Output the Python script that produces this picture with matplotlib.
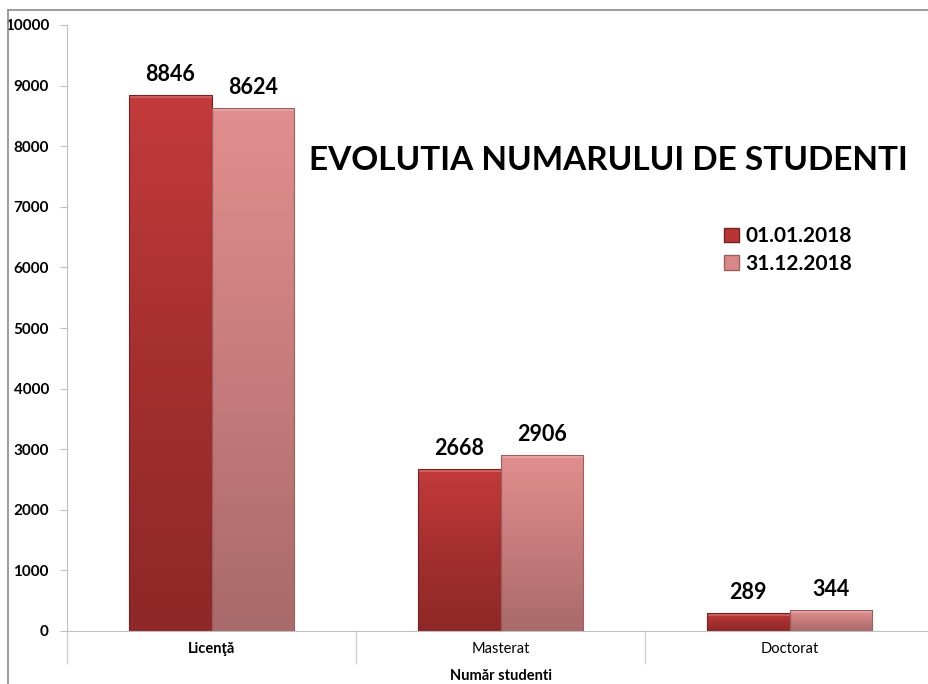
import numpy as np
from matplotlib import pyplot as plt
from matplotlib.patches import Rectangle
from matplotlib.lines import Line2D
from matplotlib.colors import LinearSegmentedColormap

categories = ['Licenţă', 'Masterat', 'Doctorat']
series_names = ['01.01.2018', '31.12.2018']
values_start = [8846, 2668, 289]
values_end = [8624, 2906, 344]
yticks = [0, 1000, 2000, 3000, 4000, 5000, 6000, 7000, 8000, 9000, 10000]

W, H = 929, 684
fig = plt.figure(figsize=(W / 100, H / 100), dpi=100)
plt.rcParams['font.family'] = ['Lato', 'DejaVu Sans']

# axes box in pixels: left 67, top 25, bottom 631
ax = fig.add_axes([67 / W, (H - 631) / H, (W - 67) / W, (631 - 25) / H])
right_lim = -0.5 + (W - 67) / 289.0

# outer border of the chart area (top and left only, the rest is cut off)
fig.add_artist(Line2D([8 / W, 1.0], [(H - 10) / H] * 2, transform=fig.transFigure,
                      color='#8c8c8c', linewidth=1.2))
fig.add_artist(Line2D([8 / W] * 2, [0, (H - 10) / H], transform=fig.transFigure,
                      color='#8c8c8c', linewidth=1.2))

grad1 = LinearSegmentedColormap.from_list('g1', ['#8e2828', '#a52f2f', '#c33b3b'])
grad2 = LinearSegmentedColormap.from_list('g2', ['#a86a6a', '#c77c7c', '#e28e8e'])
edges = ['#7a2020', '#9a6060']

width = 0.287
x = np.arange(len(categories))
for k, (vals, cmap) in enumerate([(values_start, grad1), (values_end, grad2)]):
    pos = x - width / 2 + k * width
    bars = ax.bar(pos, vals, width, color='none', edgecolor=edges[k], linewidth=0.8, zorder=3)
    for b, v in zip(bars, vals):
        x0, x1 = b.get_x(), b.get_x() + b.get_width()
        grad = np.linspace(0, 1, 256).reshape(-1, 1)
        im = ax.imshow(grad, extent=(x0, x1, 0, v), origin='lower', cmap=cmap,
                       aspect='auto', zorder=2, interpolation='bicubic')
        im.set_clip_path(b)
        # light bevel on top
        ax.add_patch(Rectangle((x0, v - 45), b.get_width(), 45, facecolor='white',
                               alpha=0.2, edgecolor='none', zorder=2.5))
        ax.text(b.get_x() + b.get_width() / 2, v + 170, str(v), ha='center', va='bottom',
                fontsize=15.5, fontweight='bold', color='black', zorder=4)
ax.set_xlim(-0.5, right_lim)
ax.set_ylim(0, 10000)

ax.set_yticks(yticks)
ax.set_yticklabels([str(t) for t in yticks], fontsize=11, fontweight='bold')
ax.tick_params(axis='y', length=5, color='#bfbfbf', pad=8)
ax.set_xticks([])
for s in ['top', 'right']:
    ax.spines[s].set_visible(False)
ax.spines['left'].set_color('#bfbfbf')
ax.spines['bottom'].set_color('#bfbfbf')
ax.spines['left'].set_bounds(0, 10000)

# category separators below the axis
for sep in [-0.5, 0.5, 1.5]:
    ax.plot([sep, sep], [0, -530], color='#d0d0d0', linewidth=1, clip_on=False)

for i, c in enumerate(categories):
    ax.text(i, -290, c, ha='center', va='center', fontsize=10.5,
            fontweight='bold' if i == 0 else 'normal')
ax.text(1, -740, 'Număr studenti', ha='center', va='center', fontsize=10.5, fontweight='bold')

ax.text(1.375, 7770, 'EVOLUTIA NUMARULUI DE STUDENTI', ha='center', va='center',
        fontsize=24, fontweight='bold')

handles = [Rectangle((0, 0), 1, 1, facecolor='#b83535', edgecolor='#7a2020'),
           Rectangle((0, 0), 1, 1, facecolor='#d88888', edgecolor='#9a6060')]
leg = ax.legend(handles, series_names, loc='upper left',
                bbox_to_anchor=((716 - 67) / (W - 67), (631 - 218) / 606),
                frameon=False, prop={'size': 15, 'weight': 'bold'}, handlelength=0.7,
                handleheight=0.7, handletextpad=0.3, labelspacing=0.35, borderaxespad=0)

fig.savefig('out.png', dpi=100)
